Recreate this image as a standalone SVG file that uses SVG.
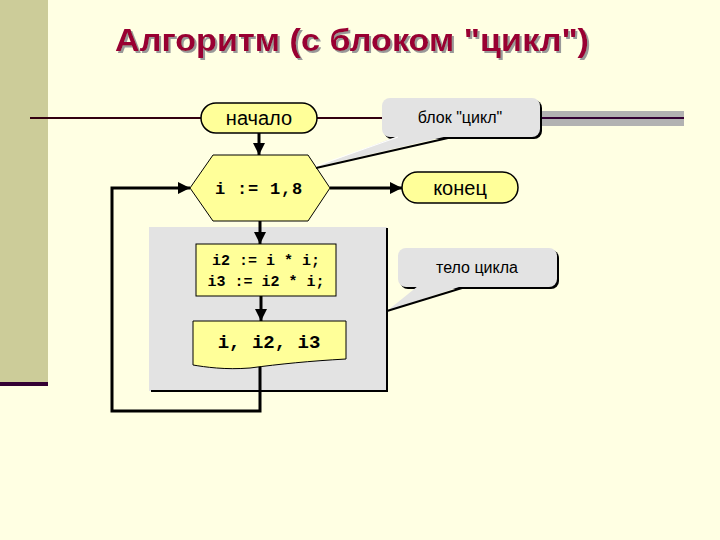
<svg xmlns="http://www.w3.org/2000/svg" width="720" height="540" viewBox="0 0 720 540">
<defs>
<style>
.term{fill:#FFFF99;stroke:#000;stroke-width:1.5}
.proc{fill:#FFFF99;stroke:#000;stroke-width:1}
.lbl{font-family:"Liberation Sans",Arial,sans-serif;fill:#000;text-anchor:middle}
.mono{font-family:"Liberation Mono","Courier New",monospace;font-weight:bold;fill:#000;text-anchor:middle}
.conn{fill:none;stroke:#000;stroke-width:3}
.call{fill:#E3E3E3}
.callsh{fill:#000}
</style>
<filter id="tsh" x="-5%" y="-20%" width="110%" height="150%">
<feDropShadow dx="2" dy="2" stdDeviation="0.3" flood-color="#999999" flood-opacity="1"/>
</filter>
<marker id="arr" viewBox="0 0 10 10" refX="10" refY="5" markerWidth="4" markerHeight="4" orient="auto" markerUnits="strokeWidth">
<path d="M0,0 L10,5 L0,10 z" fill="#000"/>
</marker>
</defs>
<rect x="0" y="0" width="720" height="540" fill="#FFFFE3"/>
<rect x="0" y="0" width="48" height="383" fill="#CCCC99"/>
<rect x="0" y="382" width="48" height="4" fill="#330033"/>
<g id="title">
<text x="115" y="51" font-family="Liberation Sans,Arial,sans-serif" font-weight="bold" font-size="32" textLength="474" lengthAdjust="spacingAndGlyphs" fill="#990033" filter="url(#tsh)">Алгоритм (с блоком "цикл")</text>
</g>
<g id="header-line">
<line x1="30" y1="118" x2="385" y2="118" stroke="#330011" stroke-width="2"/>
<rect x="540" y="111" width="144" height="15" fill="#B2B2B2"/>
<line x1="540" y1="118" x2="684" y2="118" stroke="#330033" stroke-width="2"/>
</g>
<g id="body">
<rect x="149" y="227" width="238" height="164" fill="#E3E3E3"/>
<polyline points="387,228 387,391 151,391" fill="none" stroke="#000" stroke-width="2"/>
</g>
<g id="connectors">
<line class="conn" x1="259" y1="133" x2="259" y2="155" marker-end="url(#arr)"/>
<line class="conn" x1="330" y1="188" x2="402" y2="188" marker-end="url(#arr)"/>
<line class="conn" x1="260" y1="221" x2="260" y2="244" marker-end="url(#arr)"/>
<line class="conn" x1="261" y1="296" x2="261" y2="321" marker-end="url(#arr)"/>
<polyline class="conn" points="260,366 260,411 112,411 112,188 190,188" marker-end="url(#arr)"/>
</g>
<g id="start">
<rect class="term" x="201" y="103" width="116" height="30" rx="15"/>
<text class="lbl" x="259" y="125" font-size="20">начало</text>
</g>
<g id="loop">
<polygon class="proc" points="190,188 213,155 308,155 330,188 308,221 213,221"/>
<text class="mono" x="259" y="194" font-size="17" letter-spacing="0.8">i := 1,8</text>
</g>
<g id="end">
<rect class="term" x="402" y="172" width="116" height="31" rx="15.5"/>
<text class="lbl" x="460" y="195" font-size="20">конец</text>
</g>
<g id="calc">
<rect class="proc" x="196" y="244" width="140" height="52"/>
<text class="mono" x="266" y="265" font-size="15">i2 := i * i;</text>
<text class="mono" x="266" y="286" font-size="15">i3 := i2 * i;</text>
</g>
<g id="output">
<path class="proc" d="M193,321 L346,321 L346,359 C310,361 280,364 250,368 C225,370 205,367 193,365 Z"/>
<text class="mono" x="269" y="348" font-size="19">i, i2, i3</text>
</g>
<g id="callout-loop">
<rect class="callsh" x="384" y="100" width="158" height="39" rx="8"/>
<rect class="call" x="382" y="98" width="158" height="39" rx="8"/>
<polygon class="call" points="398,136 316,167 448,136"/>
<line x1="316" y1="168" x2="448" y2="138" stroke="#000" stroke-width="2"/>
<line x1="316" y1="166" x2="398" y2="137" stroke="#FFFFFF" stroke-width="1"/>
<text class="lbl" x="460" y="123" font-size="16">блок "цикл"</text>
</g>
<g id="callout-body">
<rect class="callsh" x="400" y="250" width="159" height="39" rx="8"/>
<rect class="call" x="398" y="248" width="159" height="39" rx="8"/>
<polygon class="call" points="418,286 387,311 462,286"/>
<line x1="387" y1="311" x2="462" y2="288" stroke="#000" stroke-width="2"/>
<text class="lbl" x="477" y="273" font-size="16">тело цикла</text>
</g>
</svg>
